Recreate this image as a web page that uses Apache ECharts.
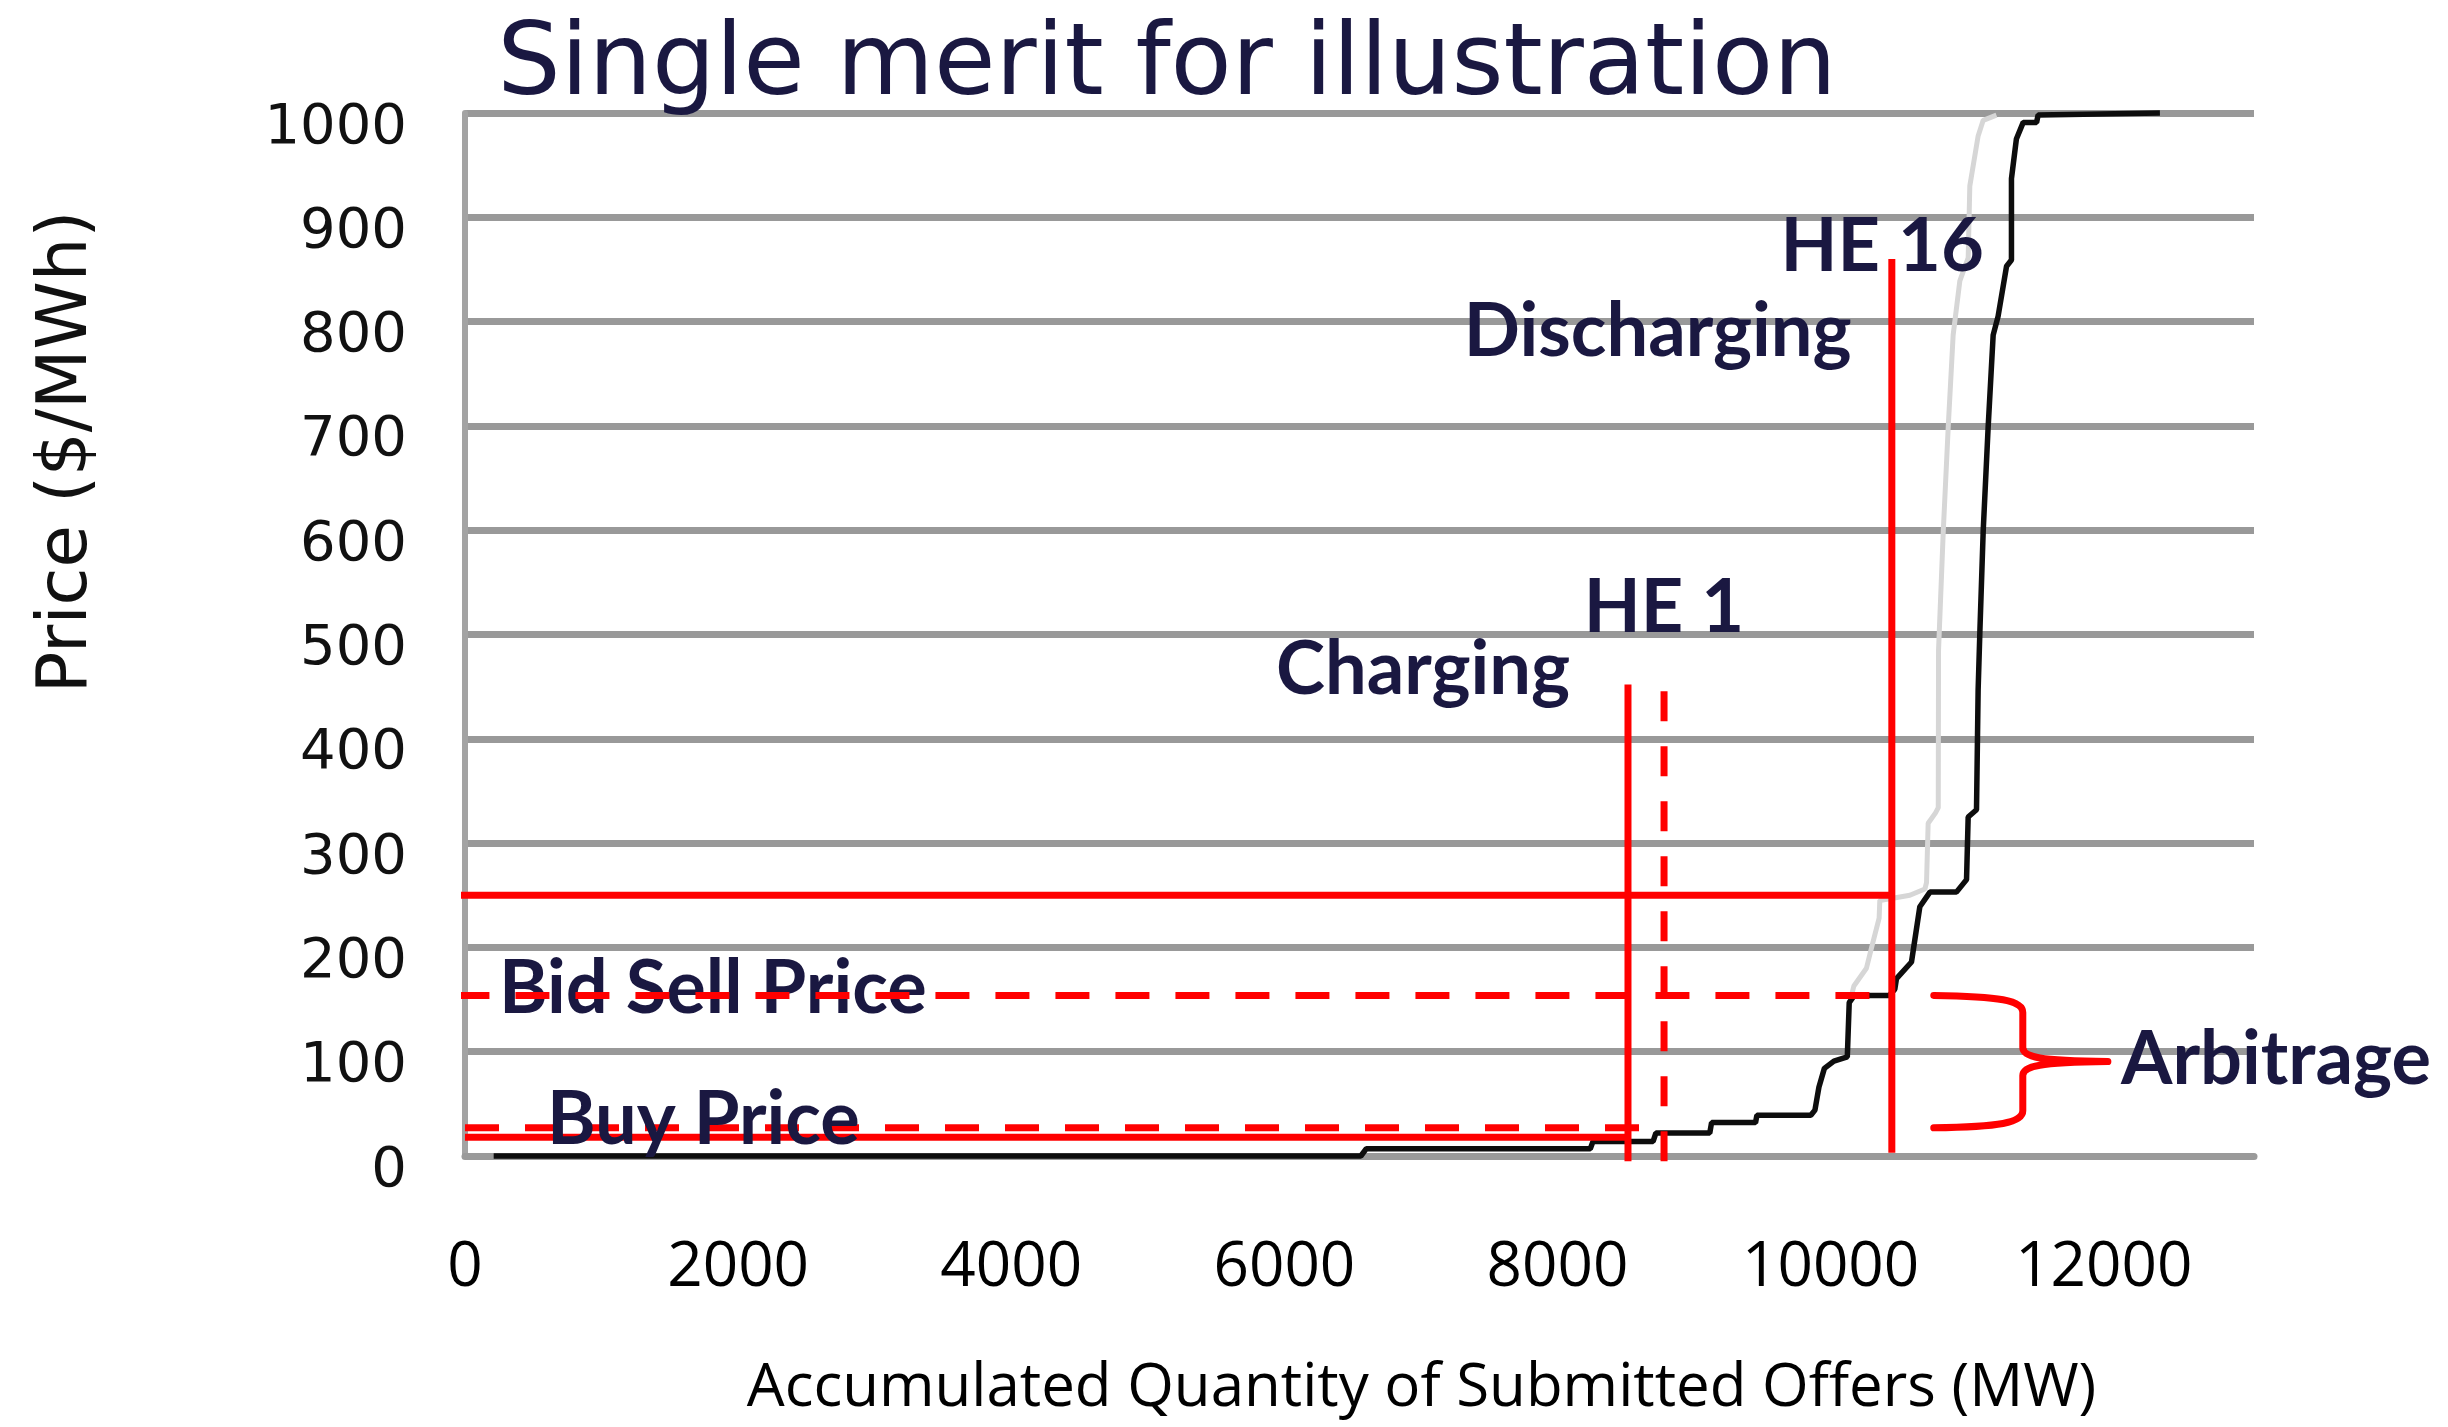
<!DOCTYPE html>
<html>
<head>
<meta charset="utf-8">
<script src="https://cdn.jsdelivr.net/npm/echarts@6/dist/echarts.min.js"></script>
<style>
  html, body { margin: 0; padding: 0; background: #ffffff; }
  #chart { width: 2448px; height: 1427px; }
</style>
</head>
<body>
<div id="chart"></div>
<script>
// ---- Text ----
const chartTitle = 'Single merit for illustration';
const xTitle = 'Accumulated Quantity of Submitted Offers (MW)';
const yTitle = 'Price ($/MWh)';

// ---- Axis ticks ----
const xTickValues = [0, 2000, 4000, 6000, 8000, 10000, 12000];
const yTickValues = [0, 100, 200, 300, 400, 500, 600, 700, 800, 900, 1000];

// ---- Merit order (HE 16): accumulated offered MW vs offer price ----
const offerMW = [210, 6560, 6600, 8240, 8260, 8700, 8720, 9115, 9128, 9450, 9460, 9855,
  9885, 9914, 9954, 10024, 10122, 10136, 10173, 10431, 10470, 10482, 10592, 10653,
  10727, 10921, 10995, 11007, 11068, 11080, 11093, 11117, 11153, 11190, 11226, 11288,
  11324, 11324, 11360, 11410, 11508, 11519, 12411];
const offerPrice = [0, 0, 7, 7, 14, 14, 22, 22, 32, 32, 39, 39,
  44, 66, 84, 91, 95, 147, 154, 154, 160, 170, 186, 239,
  253, 253, 265, 325, 332, 447, 504, 599, 698, 787, 805, 853,
  859, 937, 975, 991, 991, 998, 1000];

// ---- Second merit order, drawn faint ----
const altMW = [10153, 10170, 10262, 10300, 10355, 10360, 10580, 10690, 10702, 10714, 10768,
  10788, 10790, 10825, 10861, 10897, 10946, 11007, 11019, 11080, 11117, 11214];
const altPrice = [154, 163, 180, 200, 228, 245, 250, 256, 262, 319, 329,
  334, 485, 600, 699, 787, 839, 861, 930, 978, 993, 998];

// ---- Storage operating points ----
const chargeMW = 8516;        // HE 1 charging quantity (solid)
const chargeMWAlt = 8780;     // HE 1 charging quantity (dashed)
const dischargeMW = 10448;    // HE 16 discharging quantity
const buyPrice = 27;          // buy price (dashed)
const chargePrice = 18;       // clearing price while charging (solid)
const bidSellPrice = 154;     // bid sell price (dashed)
const dischargePrice = 250;   // clearing price while discharging

// ---- Annotation labels ----
const noteText = ['HE 16', 'Discharging', 'HE 1', 'Charging', 'Bid Sell Price', 'Buy Price', 'Arbitrage'];
const noteMW = [9633, 7314, 8192, 5939, 249, 600, 12127];
const notePrice = [871, 790, 525, 466, 160, 34, 92];

const navy = '#1a1841';
const red = '#ff0000';

function zip(xs, ys) { return xs.map((x, i) => [x, ys[i]]); }

function redLine(points, dashed, z) {
  const vertical = points[0][0] === points[1][0];
  return {
    type: 'line',
    data: points,
    showSymbol: false,
    symbol: 'none',
    clip: false,
    silent: true,
    z: z || 4,
    lineStyle: { color: red, width: 7, type: dashed ? (vertical ? [30, 25] : [34, 26]) : 'solid', cap: 'butt' }
  };
}

const chart = echarts.init(document.getElementById('chart'), null, { renderer: 'canvas', width: 2448, height: 1427 });

const option = {
  animation: false,
  backgroundColor: '#ffffff',
  title: {
    text: chartTitle,
    left: 1167,
    top: 18,
    padding: 0,
    textAlign: 'center',
    textVerticalAlign: 'top',
    textStyle: { fontFamily: 'DejaVu Sans', fontWeight: 'normal', fontSize: 100, color: navy }
  },
  grid: { left: 465, right: 194, top: 113, bottom: 271, containLabel: false, outerBoundsMode: 'none' },
  xAxis: {
    type: 'value',
    min: 0,
    max: 13100,
    interval: 2000,
    axisLine: { show: true, lineStyle: { color: '#9a9a9a', width: 7 } },
    axisTick: { show: false },
    splitLine: { show: false },
    axisLabel: {
      formatter: v => (xTickValues.indexOf(v) >= 0 ? String(v) : ''),
      fontFamily: 'Open Sans', fontSize: 62, color: '#000000',
      margin: 112, verticalAlign: 'middle'
    },
    name: xTitle,
    nameLocation: 'middle',
    nameGap: 233,
    nameTextStyle: { fontFamily: 'Open Sans', fontSize: 60, color: '#000000', verticalAlign: 'middle', padding: [0, 0, 0, 124] }
  },
  yAxis: {
    type: 'value',
    min: 0,
    max: 1000,
    interval: 100,
    axisLine: { show: true, lineStyle: { color: '#a3a3a3', width: 6 } },
    axisTick: { show: false },
    splitLine: { show: true, lineStyle: { color: '#999999', width: 7 } },
    axisLabel: {
      formatter: v => (yTickValues.indexOf(v) >= 0 ? String(v) : ''),
      fontFamily: 'DejaVu Sans', fontSize: 56, color: '#111111',
      margin: 58, verticalAlign: 'top', lineHeight: 30
    }
  },
  graphic: [{
    type: 'text',
    x: 68,
    y: 452,
    rotation: Math.PI / 2,
    style: { text: yTitle, font: '69px "DejaVu Sans"', fill: '#111111', align: 'center', verticalAlign: 'middle' }
  }],
  series: [
    {
      type: 'line', data: zip(altMW, altPrice), showSymbol: false, symbol: 'none', silent: true, z: 2,
      lineStyle: { color: '#d6d6d6', width: 5 }
    },
    {
      type: 'line', data: zip(offerMW, offerPrice), showSymbol: false, symbol: 'none', silent: true, z: 3, clip: false,
      lineStyle: { color: '#0d0d0d', width: 5.5 }
    },
    redLine([[-40, dischargePrice], [dischargeMW, dischargePrice]], false),
    redLine([[dischargeMW, 3], [dischargeMW, 860]], false),
    redLine([[chargeMW, -5], [chargeMW, 452]], false),
    redLine([[chargeMWAlt, -5], [chargeMWAlt, 452]], true),
    redLine([[0, chargePrice], [chargeMW, chargePrice]], false),
    redLine([[0, buyPrice], [chargeMWAlt, buyPrice]], true),
    redLine([[-70, bidSellPrice], [dischargeMW, bidSellPrice]], true, 6),
    {
      // brace spanning the buy / bid-sell spread
      type: 'custom',
      coordinateSystem: 'cartesian2d',
      silent: true,
      z: 4,
      data: [[10755, bidSellPrice, buyPrice]],
      renderItem: function (params, api) {
        const top = api.coord([api.value(0), api.value(1)]);
        const bot = api.coord([api.value(0), api.value(2)]);
        const sx = api.coord([11407, 0])[0];
        const tx = api.coord([12030, 0])[0];
        const ax = top[0];
        const T = top[1], B = bot[1], M = (T + B) / 2;
        const d = 'M' + ax + ' ' + T +
          ' C' + (sx - 23) + ' ' + (T + 1) + ' ' + sx + ' ' + (T + 5) + ' ' + sx + ' ' + (T + 17) +
          ' L' + sx + ' ' + (M - 14) +
          ' C' + sx + ' ' + (M - 4) + ' ' + (sx + 17) + ' ' + (M - 1) + ' ' + tx + ' ' + M +
          ' C' + (sx + 17) + ' ' + (M + 1) + ' ' + sx + ' ' + (M + 4) + ' ' + sx + ' ' + (M + 14) +
          ' L' + sx + ' ' + (B - 17) +
          ' C' + sx + ' ' + (B - 5) + ' ' + (sx - 23) + ' ' + (B - 1) + ' ' + ax + ' ' + B;
        return {
          type: 'path',
          shape: { pathData: d },
          style: { stroke: red, lineWidth: 7, fill: 'none', lineCap: 'round', lineJoin: 'round' }
        };
      }
    },
    {
      type: 'custom',
      coordinateSystem: 'cartesian2d',
      silent: true,
      z: 5,
      data: zip(noteMW, notePrice),
      renderItem: function (params, api) {
        const p = api.coord([api.value(0), api.value(1)]);
        return {
          type: 'text',
          x: p[0],
          y: p[1],
          style: {
            text: noteText[params.dataIndex],
            font: 'bold 74px Lato',
            fill: navy,
            align: 'left',
            verticalAlign: 'middle'
          }
        };
      }
    }
  ]
};

chart.setOption(option);
</script>
</body>
</html>
